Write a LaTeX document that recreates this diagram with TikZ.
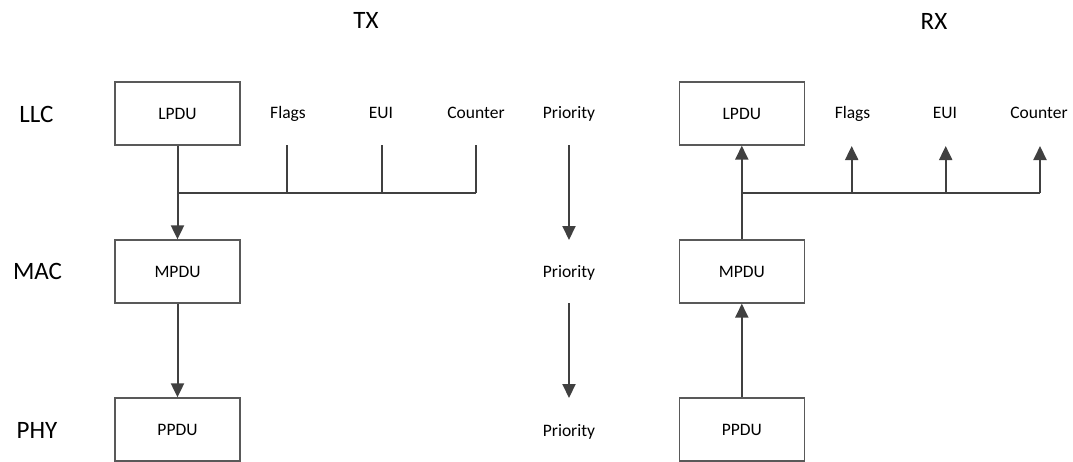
\documentclass[tikz,border=0pt]{standalone}
\usepackage{fontspec}
\setmainfont{Carlito}
\usetikzlibrary{arrows.meta}
\definecolor{linegray}{HTML}{404040}
\definecolor{boxgray}{HTML}{595959}
\begin{document}
\begin{tikzpicture}[x=1pt,y=-1pt,
  box/.style={draw=boxgray,line width=1.3pt,minimum width=125pt,minimum height=63pt,inner sep=0pt,
    font=\fontsize{17.5}{20}\selectfont,text height=11.3pt,text depth=0pt},
  lbl/.style={inner sep=0pt,font=\fontsize{17.5}{20}\selectfont,text height=11.3pt,text depth=0pt},
  layer/.style={inner sep=0pt,font=\fontsize{25}{30}\selectfont,text height=16.1pt,text depth=0pt},
  side/.style={inner sep=0pt,font=\fontsize{25}{30}\selectfont,text height=16.1pt,text depth=0pt},
  conn/.style={draw=linegray,line width=2pt},
  arr/.style={conn,-{Triangle[length=14pt,width=13pt]}}]
\useasboundingbox (0,0) rectangle (1073,461);
\clip (0,0) rectangle (1073,461);

% headings
\node[side] (tx) at (366,20.5) {TX};
\node[side] (rx) at (934,21) {RX};
\node[layer] (llc) at (36.5,114.5) {LLC};
\node[layer] (mac) at (37.5,271.3) {MAC};
\node[layer] (phy) at (37,430) {PHY};

% TX side
\node[box] (tlpdu) at (177.5,113.5) {LPDU};
\node[box] (tmpdu) at (177.5,271.5) {MPDU};
\node[box] (tppdu) at (177.5,429.5) {PPDU};
\node[lbl] (tflags) at (288,113) {Flags};
\node[lbl] (teui) at (381,113) {EUI};
\node[lbl] (tcounter) at (476,113) {Counter};
\coordinate (tj) at (177.5,193);
\coordinate (tfb) at (287.3,193);
\coordinate (teb) at (381.7,193);
\coordinate (tcb) at (475.7,193);
\coordinate (tft) at (287.3,145);
\coordinate (tet) at (381.7,145);
\coordinate (tct) at (475.7,145);
\draw[conn] (tft) -- (tfb);
\draw[conn] (tet) -- (teb);
\draw[conn] (tct) -- (tcb);
\draw[conn] (tj) -- (tcb);
\draw[arr] (tlpdu.south) -- (tmpdu.north);
\draw[arr] (tmpdu.south) -- (tppdu.north);

% Priority
\node[lbl] (p1) at (569,113) {Priority};
\node[lbl] (p2) at (569,272) {Priority};
\node[lbl] (p3) at (569,430.5) {Priority};
\coordinate (p1b) at (569,145);
\coordinate (p2t) at (569,240);
\coordinate (p2b) at (569,303);
\coordinate (p3t) at (569,398);
\draw[arr] (p1b) -- (p2t);
\draw[arr] (p2b) -- (p3t);

% RX side
\node[box] (rlpdu) at (741.8,113.5) {LPDU};
\node[box] (rmpdu) at (741.8,271.5) {MPDU};
\node[box] (rppdu) at (741.8,429.5) {PPDU};
\node[lbl] (rflags) at (852.5,113) {Flags};
\node[lbl] (reui) at (945,113) {EUI};
\node[lbl] (rcounter) at (1039,113) {Counter};
\coordinate (rj) at (741.8,193);
\coordinate (rfb) at (851.7,193);
\coordinate (reb) at (945.7,193);
\coordinate (rcb) at (1040,193);
\coordinate (rft) at (851.7,146);
\coordinate (ret) at (945.7,146);
\coordinate (rct) at (1040,146);
\draw[conn] (rj) -- (rcb);
\draw[arr] (rfb) -- (rft);
\draw[arr] (reb) -- (ret);
\draw[arr] (rcb) -- (rct);
\draw[arr] (rmpdu.north) -- (rlpdu.south);
\draw[arr] (rppdu.north) -- (rmpdu.south);
\end{tikzpicture}
\end{document}
